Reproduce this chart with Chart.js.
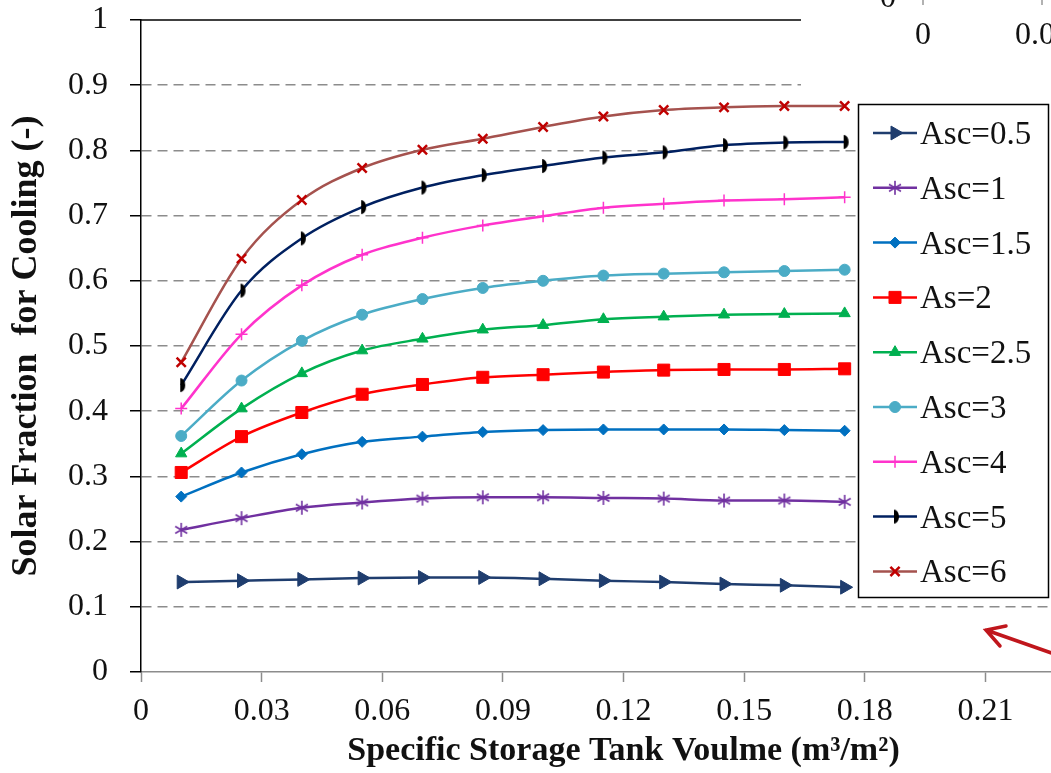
<!DOCTYPE html>
<html>
<head>
<meta charset="utf-8">
<script src="https://cdn.jsdelivr.net/npm/chart.js@4.4.0/dist/chart.umd.min.js"></script>
<style>
  html, body { margin: 0; padding: 0; background: #fff; overflow: hidden; }
  #wrap { width: 1144px; height: 773px; }
</style>
</head>
<body>
<div id="wrap"><canvas id="chart" width="1144" height="773"></canvas></div>
<script>
// x values (m3/m2) and solar fraction per collector area
const tankVolume = [0.01, 0.025, 0.04, 0.055, 0.07, 0.085, 0.1, 0.115, 0.13, 0.145, 0.16, 0.175];
const asc05 = [0.138, 0.140, 0.142, 0.144, 0.145, 0.145, 0.143, 0.140, 0.138, 0.135, 0.133, 0.130];
const asc1 = [0.218, 0.236, 0.252, 0.260, 0.266, 0.268, 0.268, 0.267, 0.266, 0.263, 0.263, 0.261];
const asc15 = [0.269, 0.306, 0.334, 0.353, 0.361, 0.368, 0.371, 0.372, 0.372, 0.372, 0.371, 0.370];
const asc2 = [0.306, 0.361, 0.398, 0.426, 0.441, 0.452, 0.456, 0.460, 0.463, 0.464, 0.464, 0.465];
const asc25 = [0.335, 0.404, 0.458, 0.493, 0.511, 0.525, 0.532, 0.541, 0.545, 0.548, 0.549, 0.550];
const asc3 = [0.362, 0.447, 0.508, 0.548, 0.572, 0.589, 0.600, 0.608, 0.611, 0.613, 0.615, 0.617];
const asc4 = [0.404, 0.518, 0.593, 0.640, 0.666, 0.685, 0.699, 0.712, 0.718, 0.723, 0.725, 0.728];
const asc5 = [0.440, 0.585, 0.665, 0.713, 0.743, 0.762, 0.776, 0.789, 0.797, 0.808, 0.812, 0.813];
const asc6 = [0.475, 0.634, 0.724, 0.773, 0.801, 0.818, 0.836, 0.852, 0.862, 0.866, 0.868, 0.868];
const seriesNames = ["Asc=0.5", "Asc=1", "Asc=1.5", "As=2", "Asc=2.5", "Asc=3", "Asc=4", "Asc=5", "Asc=6"];
const yTicks = [0, 0.1, 0.2, 0.3, 0.4, 0.5, 0.6, 0.7, 0.8, 0.9, 1];
const xTicks = [0, 0.03, 0.06, 0.09, 0.12, 0.15, 0.18, 0.21, 0.24];

const serif = '"Liberation Serif", "Times New Roman", serif';

function makeAsterisk(color) {
  const c = document.createElement("canvas");
  c.width = 16; c.height = 16;
  const g = c.getContext("2d");
  g.strokeStyle = color;
  g.lineWidth = 1.6;
  g.beginPath();
  g.moveTo(8, 1); g.lineTo(8, 15);
  g.moveTo(2, 4.5); g.lineTo(14, 11.5);
  g.moveTo(2, 11.5); g.lineTo(14, 4.5);
  g.stroke();
  return c;
}

function makeHalfDisc() {
  const c = document.createElement("canvas");
  c.width = 12; c.height = 16;
  const g = c.getContext("2d");
  g.fillStyle = "#000";
  g.beginPath();
  g.ellipse(5, 8, 5, 7, 0, -Math.PI / 2, Math.PI / 2);
  g.closePath();
  g.fill();
  return c;
}

function toPoints(values) {
  return values.map((v, i) => ({ x: tankVolume[i], y: v }));
}

function series(i, values, line, marker, style, radius, extra) {
  return Object.assign({
    label: seriesNames[i],
    data: toPoints(values),
    borderColor: line,
    backgroundColor: marker,
    pointBackgroundColor: marker,
    pointBorderColor: marker,
    pointStyle: style,
    pointRadius: radius,
    pointBorderWidth: 1,
    borderWidth: 2.5,
    cubicInterpolationMode: "monotone",
    fill: false,
  }, extra || {});
}

const datasets = [
  series(0, asc05, "#1f3d6e", "#1f3d6e", "triangle", 8, { pointRotation: 90 }),
  series(1, asc1, "#7030a0", "#7030a0", makeAsterisk("#7030a0"), 6),
  series(2, asc15, "#0070c0", "#0070c0", "rectRot", 5.5),
  series(3, asc2, "#ff0000", "#ff0000", "rect", 8.5),
  series(4, asc25, "#00b050", "#00b050", "triangle", 6.5),
  series(5, asc3, "#4bacc6", "#4bacc6", "circle", 5.5),
  series(6, asc4, "#ff33cc", "#ff33cc", "cross", 6, { pointBorderWidth: 1.5 }),
  series(7, asc5, "#002060", "#000000", makeHalfDisc(), 6),
  series(8, asc6, "#a5524e", "#c00000", "crossRot", 6.5, { pointBorderWidth: 2.5 }),
];

const overlayPlugin = {
  id: "overlay",
  afterDraw(chart) {
    const ctx = chart.ctx;
    const area = chart.chartArea;
    ctx.save();

    // plot area top border
    ctx.strokeStyle = "#000";
    ctx.lineWidth = 1.5;
    ctx.beginPath();
    ctx.moveTo(area.left, area.top);
    ctx.lineTo(area.right, area.top);
    ctx.stroke();

    // piece of neighbouring figure at top right
    ctx.fillStyle = "#fff";
    ctx.fillRect(801, 0, 345, 97);
    ctx.strokeStyle = "#999";
    ctx.lineWidth = 1.5;
    ctx.beginPath();
    ctx.moveTo(923, 0); ctx.lineTo(923, 5);
    ctx.moveTo(1042, 0); ctx.lineTo(1042, 5);
    ctx.stroke();
    ctx.fillStyle = "#111";
    ctx.font = "32px " + serif;
    ctx.textBaseline = "alphabetic";
    ctx.textAlign = "center";
    ctx.fillText("0", 923, 43.5);
    ctx.fillText("0", 888, 6.5);
    ctx.textAlign = "left";
    ctx.fillText("0.0", 1015, 43.5);

    // legend box
    ctx.fillStyle = "#fff";
    ctx.fillRect(858, 104, 191, 494);
    ctx.strokeStyle = "#000";
    ctx.lineWidth = 1.5;
    ctx.strokeRect(858.5, 104.5, 190, 493);

    const top = 133;
    const step = 54.8;
    chart.data.datasets.forEach((ds, i) => {
      const y = top + i * step;
      ctx.strokeStyle = ds.borderColor;
      ctx.lineWidth = 2.5;
      ctx.beginPath();
      ctx.moveTo(873, y);
      ctx.lineTo(917, y);
      ctx.stroke();
      ctx.fillStyle = ds.pointBackgroundColor;
      ctx.strokeStyle = ds.pointBorderColor;
      ctx.lineWidth = ds.pointBorderWidth;
      Chart.helpers.drawPoint(ctx, {
        pointStyle: ds.pointStyle,
        rotation: ds.pointRotation || 0,
        radius: ds.pointRadius,
        borderWidth: ds.pointBorderWidth,
      }, 895, y);
      ctx.fillStyle = "#111";
      ctx.font = "33px " + serif;
      ctx.textAlign = "left";
      ctx.textBaseline = "alphabetic";
      ctx.fillText(ds.label, 920, y + 11);
    });

    // red arrow pointing at the legend
    ctx.strokeStyle = "#c0161c";
    ctx.lineWidth = 3.5;
    ctx.lineCap = "round";
    ctx.beginPath();
    ctx.moveTo(1060, 656);
    ctx.lineTo(986, 630);
    ctx.moveTo(1006, 626);
    ctx.lineTo(986, 630);
    ctx.lineTo(1000, 646);
    ctx.stroke();

    ctx.restore();
  },
};

new Chart(document.getElementById("chart"), {
  type: "line",
  data: { datasets },
  plugins: [overlayPlugin],
  options: {
    responsive: false,
    animation: false,
    events: [],
    layout: { padding: { left: 0, top: 20, right: 35, bottom: 0 } },
    plugins: { legend: { display: false }, tooltip: { enabled: false } },
    scales: {
      x: {
        type: "linear",
        min: 0,
        max: 0.24,
        afterFit(scale) { scale.height = 101; },
        afterBuildTicks(scale) { scale.ticks = xTicks.map((v) => ({ value: v })); },
        ticks: {
          color: "#111",
          font: { family: serif, size: 32 },
          padding: 10,
          maxRotation: 0,
          callback: (v) => String(+Number(v).toFixed(2)),
        },
        grid: {
          drawOnChartArea: false,
          tickColor: "#8c8c8c",
          tickLength: 10,
          tickWidth: 1.5,
        },
        border: { color: "#8c8c8c", width: 1.5 },
        title: {
          display: true,
          text: "Specific Storage Tank Voulme (m³/m²)",
          color: "#111",
          font: { family: serif, size: 34, weight: "bold" },
          padding: { top: 0, bottom: 1 },
        },
      },
      y: {
        min: 0,
        max: 1,
        afterFit(scale) {
          scale.width = 141;
          scale.paddingTop = 0;
          scale.paddingBottom = 0;
        },
        afterBuildTicks(scale) { scale.ticks = yTicks.map((v) => ({ value: v })); },
        ticks: {
          color: "#111",
          font: { family: serif, size: 32 },
          padding: 22,
          callback: (v) => String(+Number(v).toFixed(1)),
        },
        grid: {
          color: (c) => (c.tick && (c.tick.value === 0 || c.tick.value === 1) ? "rgba(0,0,0,0)" : "#8c8c8c"),
          lineWidth: 1.5,
          tickColor: "#000",
          tickLength: 11,
          tickWidth: 1.5,
          tickBorderDash: [],
        },
        border: { color: "#000", width: 1.5, dash: [10, 6] },
        title: {
          display: true,
          text: "Solar Fraction  for Cooling (-)",
          color: "#111",
          font: { family: serif, size: 36, weight: "bold" },
          padding: { top: 5, bottom: 0 },
        },
      },
    },
  },
});
</script>
</body>
</html>
